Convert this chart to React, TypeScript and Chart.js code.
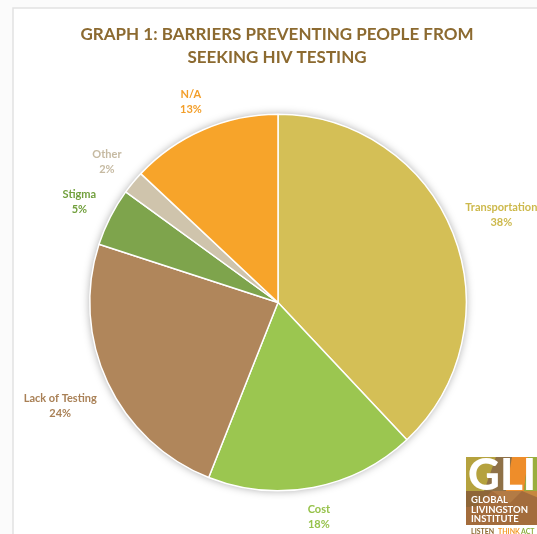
import React, { useEffect, useRef } from "react";
import { Chart, registerables } from "chart.js";
Chart.register(...registerables);

const categories = ["Transportation", "Cost", "Lack of Testing", "Stigma", "Other", "N/A"];
const values = [38, 18, 24, 5, 2, 13];
const percentLabels = ["38%", "18%", "24%", "5%", "2%", "13%"];
const sliceColors = ["#D4BF56", "#9BC650", "#B0865B", "#7EA44C", "#CFC4AC", "#F7A42A"];
const labelColors = ["#CDB94C", "#96C24A", "#A98056", "#72A03E", "#C6BAA2", "#F39E28"];
const titleLines = ["GRAPH 1: BARRIERS PREVENTING PEOPLE FROM", "SEEKING HIV TESTING"];
const logoLines = ["GLOBAL", "LIVINGSTON", "INSTITUTE"];

const FONT = "Lato, 'Open Sans', sans-serif";

const framePlugin = {
  id: "frame",
  beforeDraw(chart: any) {
    const ctx = chart.ctx;
    ctx.save();
    ctx.fillStyle = "#fbfbfb";
    ctx.fillRect(0, 0, chart.width, chart.height);
    ctx.fillStyle = "#ffffff";
    ctx.fillRect(13, 8, chart.width - 13, chart.height - 8);
    ctx.strokeStyle = "#e2e2e2";
    ctx.lineWidth = 1.5;
    ctx.beginPath();
    ctx.moveTo(13, chart.height);
    ctx.lineTo(13, 8);
    ctx.lineTo(chart.width, 8);
    ctx.stroke();
    ctx.restore();
  },
};

const shadowPlugin = {
  id: "pieShadow",
  beforeDatasetsDraw(chart: any) {
    const arc = chart.getDatasetMeta(0).data[0];
    if (!arc) return;
    const { x, y, outerRadius } = arc.getProps(["x", "y", "outerRadius"], true);
    const ctx = chart.ctx;
    ctx.save();
    ctx.shadowColor = "rgba(0,0,0,0.35)";
    ctx.shadowBlur = 9;
    ctx.fillStyle = "#ffffff";
    ctx.beginPath();
    ctx.arc(x, y, outerRadius, 0, Math.PI * 2);
    ctx.fill();
    ctx.restore();
  },
};

const labelPlugin = {
  id: "outsideLabels",
  afterDatasetsDraw(chart: any) {
    const ctx = chart.ctx;
    const meta = chart.getDatasetMeta(0);
    ctx.save();
    ctx.font = `bold 11px ${FONT}`;
    ctx.textAlign = "center";
    ctx.textBaseline = "middle";
    meta.data.forEach((arc: any, i: number) => {
      const { x, y, startAngle, endAngle, outerRadius } = arc.getProps(
        ["x", "y", "startAngle", "endAngle", "outerRadius"],
        true
      );
      const mid = (startAngle + endAngle) / 2;
      const c = Math.cos(mid);
      const s = Math.sin(mid);
      const lines = [categories[i], percentLabels[i]];
      const hw = Math.max(...lines.map((l) => ctx.measureText(l).width)) / 2;
      const hh = 15;
      const d = outerRadius + 13 + Math.abs(c) * hw + Math.abs(s) * hh;
      const lx = x + c * d;
      const ly = y + s * d;
      ctx.fillStyle = labelColors[i];
      ctx.fillText(lines[0], lx, ly - 7);
      ctx.fillText(lines[1], lx, ly + 8);
    });
    ctx.restore();
  },
  afterDraw(chart: any) {
    const ctx = chart.ctx;
    ctx.save();
    // title
    ctx.font = `bold 17px ${FONT}`;
    ctx.fillStyle = "#8C6A30";
    ctx.textAlign = "center";
    ctx.textBaseline = "middle";
    ctx.fillText(titleLines[0], 277, 35);
    ctx.fillText(titleLines[1], 277, 58);

    // logo
    const x0 = 466;
    const y0 = 457;
    const W = 80;
    const H = 68;
    const poly = (pts: number[][], col: string) => {
      ctx.fillStyle = col;
      ctx.beginPath();
      ctx.moveTo(x0 + pts[0][0], y0 + pts[0][1]);
      for (let k = 1; k < pts.length; k++) ctx.lineTo(x0 + pts[k][0], y0 + pts[k][1]);
      ctx.closePath();
      ctx.fill();
    };
    poly([[0, 0], [W, 0], [W, H], [0, H]], "#A36C3C");
    poly([[0, 0], [30, 0], [22, 34], [0, 34]], "#B5A23E");
    poly([[30, 0], [46, 0], [40, 34], [18, 34]], "#8F7147");
    poly([[46, 0], [62, 0], [58, 34], [40, 34]], "#EE8D2A");
    poly([[62, 0], [W, 0], [W, 34], [58, 34]], "#9AAE3E");
    poly([[0, 34], [26, 34], [10, 50], [0, 50]], "#8E6638");
    poly([[26, 34], [56, 34], [44, 46]], "#B37B45");
    poly([[56, 34], [W, 34], [W, 44]], "#C6873E");
    ctx.fillStyle = "#ffffff";
    ctx.textAlign = "left";
    ctx.textBaseline = "alphabetic";
    ctx.font = `900 44px ${FONT}`;
    ctx.fillText("GLI", x0 + 2, y0 + 33);
    ctx.font = `bold 9.5px ${FONT}`;
    ctx.fillText(logoLines[0], x0 + 5, y0 + 46);
    ctx.fillText(logoLines[1], x0 + 5, y0 + 56);
    ctx.fillText(logoLines[2], x0 + 5, y0 + 65);
    ctx.font = `bold 7px ${FONT}`;
    ctx.fillStyle = "#8C6A30";
    ctx.fillText("LISTEN", x0 + 5, y0 + 77);
    ctx.fillStyle = "#F39A28";
    ctx.fillText("THINK", x0 + 32, y0 + 77);
    ctx.fillStyle = "#8DB03E";
    ctx.fillText("ACT", x0 + 55, y0 + 77);
    ctx.restore();
  },
};

export default function App() {
  const ref = useRef<HTMLCanvasElement | null>(null);
  useEffect(() => {
    document.body.style.margin = "0";
    if (!ref.current) return;
    const chart = new Chart(ref.current, {
      type: "pie",
      data: {
        labels: categories,
        datasets: [
          {
            data: values,
            backgroundColor: sliceColors,
            borderColor: "#ffffff",
            borderWidth: 1.5,
          },
        ],
      },
      options: {
        responsive: false,
        animation: false,
        layout: { padding: { top: 113, bottom: 42, left: 89, right: 70 } },
        plugins: {
          legend: { display: false },
          title: { display: false },
          tooltip: { enabled: false },
        },
      },
      plugins: [framePlugin, shadowPlugin, labelPlugin],
    });
    return () => chart.destroy();
  }, []);
  return (
    <div style={{ width: 537, height: 534 }}>
      <canvas ref={ref} width={537} height={534} style={{ display: "block" }} />
    </div>
  );
}
